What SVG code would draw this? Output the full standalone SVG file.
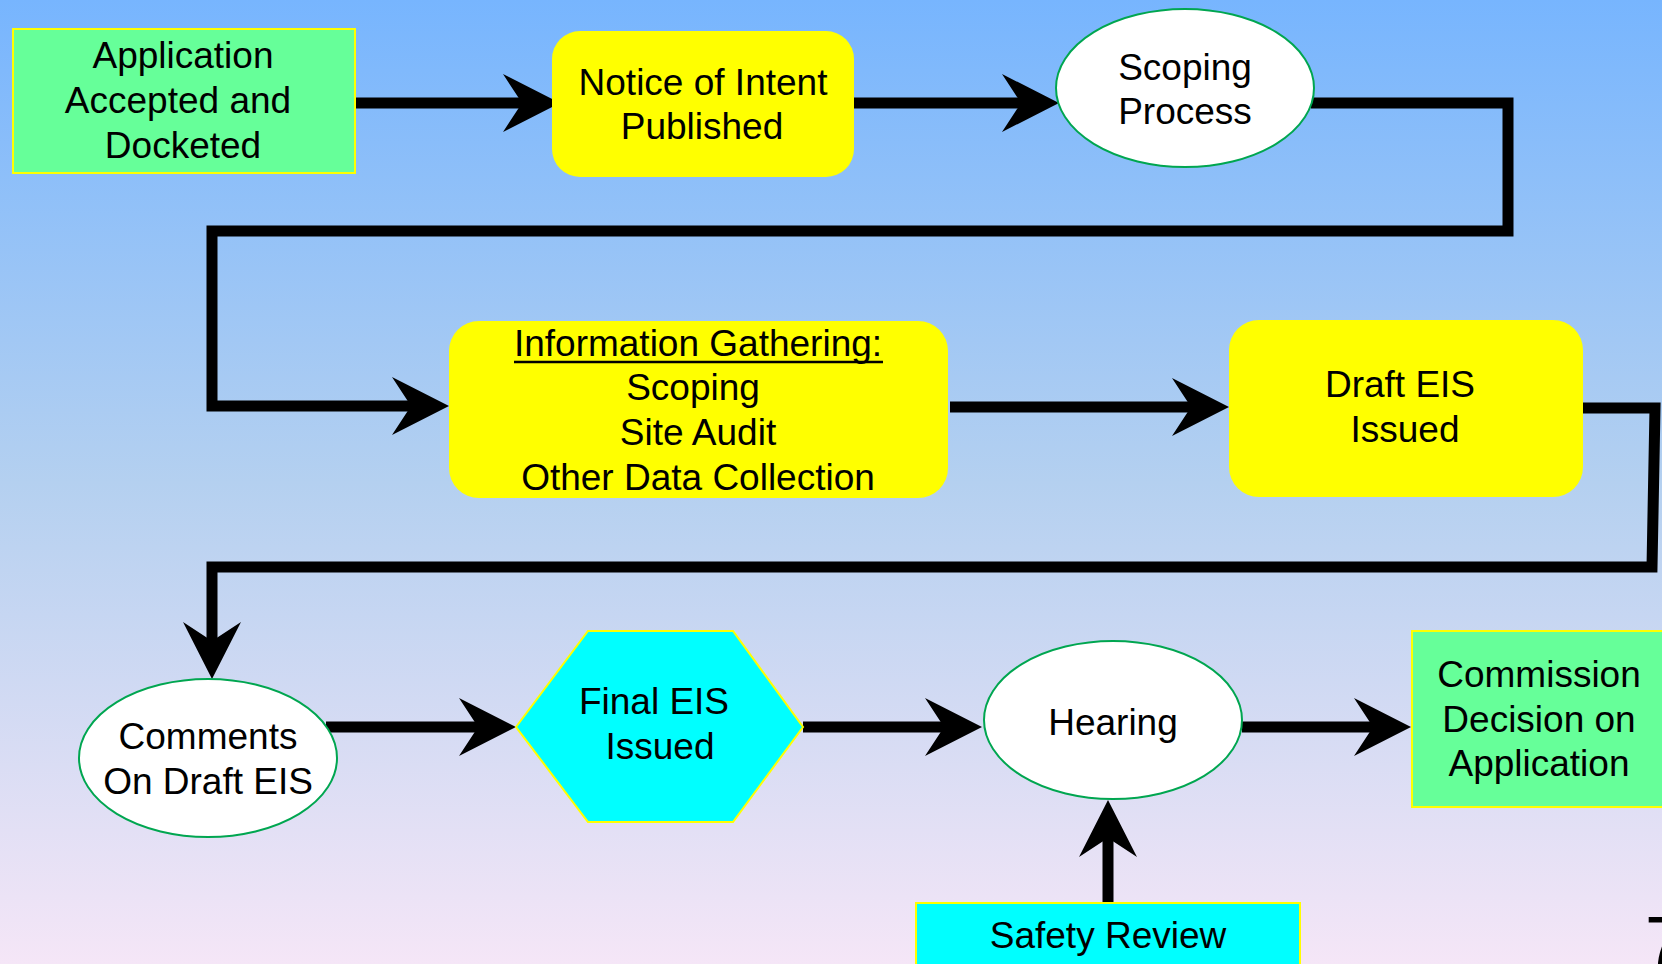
<svg xmlns="http://www.w3.org/2000/svg" width="1662" height="964" viewBox="0 0 1662 964">
<defs>
<linearGradient id="bg" x1="0" y1="0" x2="0" y2="1">
<stop offset="0" stop-color="#77b5fe"/>
<stop offset="0.5" stop-color="#b4d0f0"/>
<stop offset="1" stop-color="#f5e6f7"/>
</linearGradient>
<marker id="ah" markerUnits="userSpaceOnUse" markerWidth="60" markerHeight="60" viewBox="-20 -30 60 60" refX="0" refY="0" orient="auto" overflow="visible">
<path d="M38,0 L-19,-29 L0,0 L-19,29 Z" fill="#000"/>
</marker>
<style>
text{font-family:"Liberation Sans",Arial,sans-serif;font-size:37px;fill:#000;text-anchor:middle}
.green{fill:#66ff99;stroke:#ffff00;stroke-width:2}
.cyan{fill:#00ffff;stroke:#ffff00;stroke-width:2}
.yel{fill:#ffff00;stroke:none}
.oval{fill:#fff;stroke:#00a650;stroke-width:2}
.conn{fill:none;stroke:#000;stroke-width:11;stroke-linejoin:miter;stroke-linecap:butt}
</style>
</defs>
<rect x="0" y="0" width="1662" height="964" fill="url(#bg)"/>
<g id="connectors">
<path class="conn" d="M355,103 H522" marker-end="url(#ah)"/>
<path class="conn" d="M854,103 H1021" marker-end="url(#ah)"/>
<path class="conn" d="M1311,103 H1508 V231 H212 V406 H411" marker-end="url(#ah)"/>
<path class="conn" d="M950,407 H1191" marker-end="url(#ah)"/>
<path class="conn" d="M1583,408 H1655 L1652,567 H212 V641" marker-end="url(#ah)"/>
<path class="conn" d="M326,727 H478" marker-end="url(#ah)"/>
<path class="conn" d="M803,727 H944" marker-end="url(#ah)"/>
<path class="conn" d="M1242,727 H1373" marker-end="url(#ah)"/>
<path class="conn" d="M1108,904 V838" marker-end="url(#ah)"/>
</g>
<g id="application">
<rect class="green" x="13" y="29" width="342" height="144"/>
<text x="183" y="68">Application</text>
<text x="178" y="113">Accepted and</text>
<text x="183" y="158">Docketed</text>
</g>
<g id="notice">
<rect class="yel" x="552" y="31" width="302" height="146" rx="28" ry="28"/>
<text x="703" y="95">Notice of Intent</text>
<text x="702" y="139">Published</text>
</g>
<g id="scoping">
<ellipse class="oval" cx="1185" cy="88" rx="129" ry="79"/>
<text x="1185" y="80">Scoping</text>
<text x="1185" y="124">Process</text>
</g>
<g id="info">
<rect class="yel" x="449" y="321" width="499" height="177" rx="30" ry="30"/>
<text x="698" y="356">Information Gathering:</text>
<line x1="514" y1="362" x2="883" y2="362" stroke="#000" stroke-width="2.5"/>
<text x="693" y="400">Scoping</text>
<text x="698" y="445">Site Audit</text>
<text x="698" y="490">Other Data Collection</text>
</g>
<g id="draft">
<rect class="yel" x="1229" y="320" width="354" height="177" rx="30" ry="30"/>
<text x="1400" y="397">Draft EIS</text>
<text x="1405" y="442">Issued</text>
</g>
<g id="comments">
<ellipse class="oval" cx="208" cy="758" rx="129" ry="79"/>
<text x="208" y="749">Comments</text>
<text x="208" y="794">On Draft EIS</text>
</g>
<g id="final">
<polygon class="cyan" points="516,727 588,631 733,631 803,727 733,822 588,822"/>
<text x="654" y="714">Final EIS</text>
<text x="660" y="759">Issued</text>
</g>
<g id="hearing">
<ellipse class="oval" cx="1113" cy="720" rx="129" ry="79"/>
<text x="1113" y="735">Hearing</text>
</g>
<g id="commission">
<rect class="green" x="1412" y="631" width="270" height="176"/>
<text x="1539" y="687">Commission</text>
<text x="1539" y="732">Decision on</text>
<text x="1539" y="776">Application</text>
</g>
<g id="safety">
<rect class="cyan" x="916" y="903" width="384" height="80"/>
<text x="1108" y="948">Safety Review</text>
</g>
<text x="1645" y="967" style="font-size:72px;text-anchor:start">7</text>
</svg>
